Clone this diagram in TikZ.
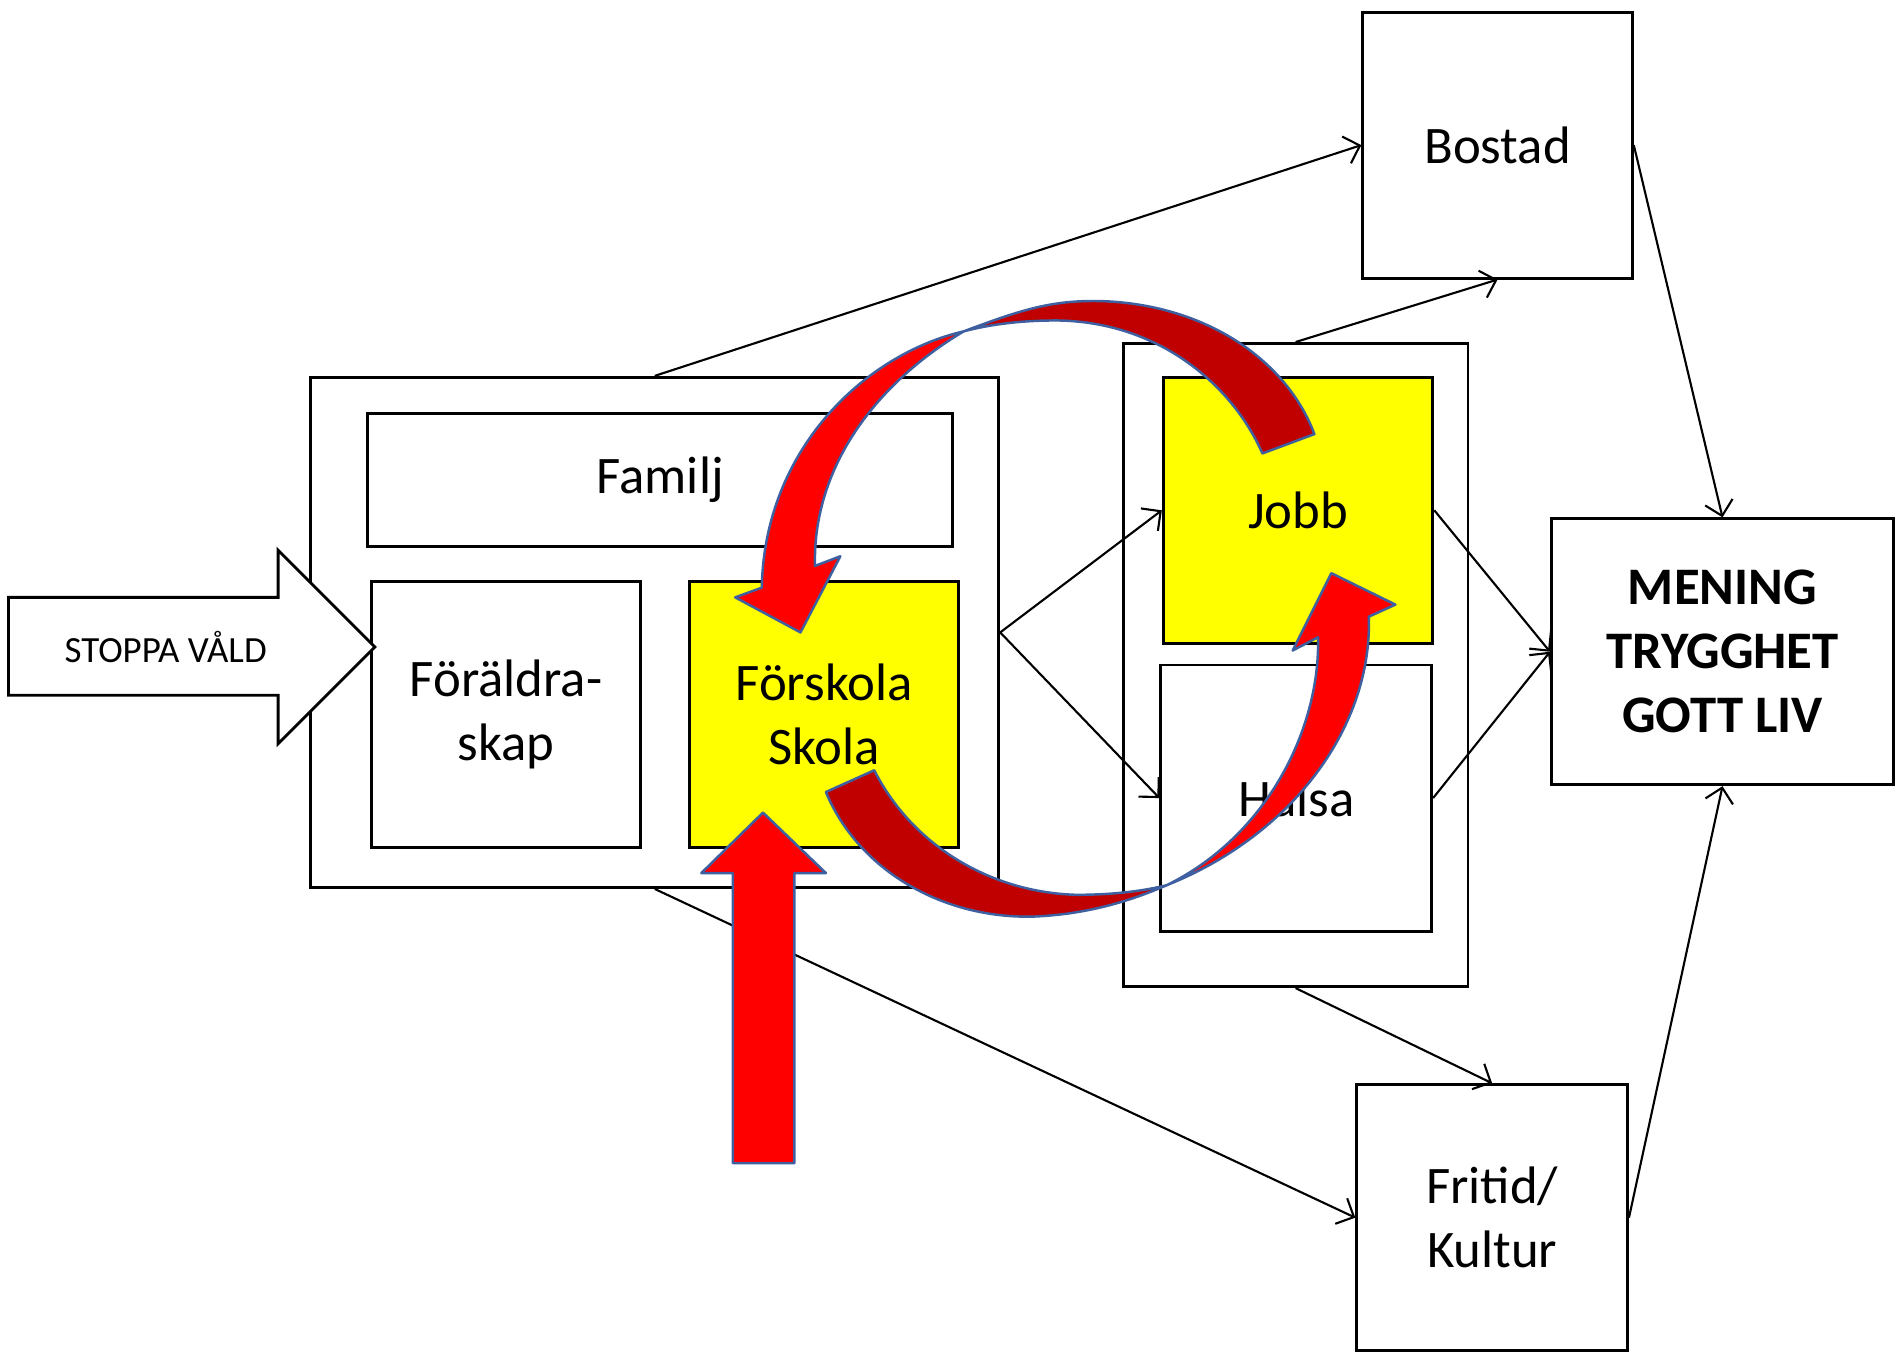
\documentclass[tikz,border=0pt]{standalone}
\usepackage{fontspec}
\setmainfont{Carlito}
\usetikzlibrary{arrows.meta}
\definecolor{ljusrod}{RGB}{255,0,0}
\definecolor{morkrod}{RGB}{192,0,0}
\definecolor{pilkant}{RGB}{62,96,160}
\definecolor{gul}{RGB}{255,255,0}
\newcommand{\px}{0.012092cm}
\tikzset{
    ruta/.style 2 args={
        draw, thick, fill=white,
        inner sep=0pt, align=center,
        minimum width=#1*\px, minimum height=#2*\px,
        font=\fontsize{15}{18.2}\selectfont
    },
    gul/.style={fill=gul},
    every edge/.style={
        draw,
        ->,>={Straight Barb[length=4pt,width=8pt]},
        semithick
    },
    pilljus/.style={fill=ljusrod, draw=pilkant, line width=0.7pt, line join=round},
    pilmork/.style={fill=morkrod, draw=pilkant, line width=0.7pt, line join=round}
}

\begin{document}
\begin{tikzpicture}[x=\px, y=-\px]
	\useasboundingbox (0,0) rectangle (1568,1121);
	% boxes
	\node[ruta={569}{422}] at (541.5,523) (leftgrp) {};
	\node[ruta={484}{110}] at (546,397) (familj) {Familj};
	\node[ruta={223}{220}] at (418.5,591) (foraldra) {Föräldra-\\skap};
	\node[ruta={223}{220}, gul] at (681.5,591) (skola) {Förskola\\Skola};
	\node[ruta={285}{532}] at (1071.5,550) (rightgrp) {};
	\node[ruta={223}{220}, gul] at (1073.5,422) (jobb) {Jobb};
	\node[ruta={224}{220}] at (1072,660) (halsa) {Hälsa};
	\node[ruta={223}{220}] at (1238.5,120) (bostad) {Bostad};
	\node[ruta={283}{220}, font=\fontsize{15}{18.2}\selectfont\bfseries] at (1424.5,539) (mening) {MENING\\TRYGGHET\\GOTT LIV};
	\node[ruta={224}{220}] at (1234,1007) (fritid) {Fritid/\\Kultur};
	\draw
	(leftgrp.north) edge (bostad.west)
	(leftgrp.south) edge (fritid.west)
	(leftgrp.east) edge (jobb.west)
	(leftgrp.east) edge (halsa.west)
	(rightgrp.north) edge (bostad.south)
	(rightgrp.south) edge (fritid.north)
	(bostad.east) edge (mening.north)
	(jobb.east) edge (mening.west)
	(halsa.east) edge (mening.west)
	(fritid.east) edge (mening.south);
	% stoppa arrow
	\draw[thick, fill=white] (7,494) -- (230,494) -- (230,455) -- (310,535)
		-- (230,615) -- (230,575) -- (7,575) -- cycle;
	\node[font=\fontsize{10.5}{12}\selectfont] at (137,535) (stoppa) {STOPPA VÅLD};
	% red arrows
	\draw[pilljus] (606,962) -- (606,722) -- (580,722) -- (631,672)
		-- (683,722) -- (657,722) -- (657,962) -- cycle;
	\draw[pilmork] (1087,359) .. controls (1065,300) and (1000,252) .. (911,249)
		.. controls (870,248) and (845,256) .. (797,274)
		.. controls (820,268) and (845,265) .. (874,265)
		.. controls (960,266) and (1020,320) .. (1044,375) -- cycle;
	\draw[pilljus] (797,274) .. controls (715,293) and (632,372) .. (630,486)
		-- (608,494) -- (662,523) -- (695,460) -- (674,468)
		.. controls (672,390) and (720,320) .. (797,274) -- cycle;
	\draw[pilmork] (683,655) .. controls (710,720) and (780,760) .. (855,758)
		.. controls (900,756) and (935,745) .. (965,732)
		.. controls (945,737) and (920,740) .. (890,740)
		.. controls (820,738) and (755,700) .. (723,637) -- cycle;
	\draw[pilljus] (965,732) .. controls (1070,690) and (1135,600) .. (1132,510)
		-- (1154,500) -- (1101,474) -- (1069,538) -- (1090,527)
		.. controls (1092,600) and (1050,690) .. (965,732) -- cycle;
\end{tikzpicture}
\end{document}
